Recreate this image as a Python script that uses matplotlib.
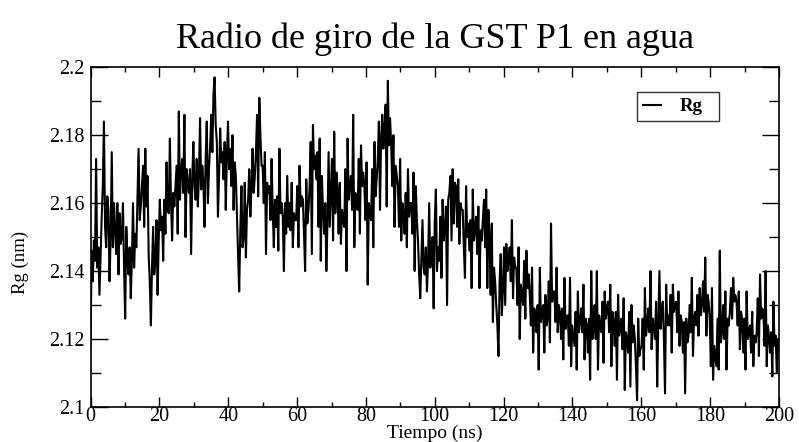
import numpy as np
import matplotlib
matplotlib.use("Agg")
import matplotlib.pyplot as plt
from matplotlib.ticker import MultipleLocator, FuncFormatter

# Radius of gyration (nm) of GST P1 in water, 200 ns trajectory
rg_0_50 = [
    2.118, 2.146, 2.137, 2.149,
    2.143, 2.173, 2.141, 2.147, 2.133, 2.145,
    2.156, 2.165, 2.184, 2.153, 2.147, 2.162,
    2.158, 2.137, 2.150, 2.175, 2.147, 2.160,
    2.152, 2.145, 2.160, 2.139, 2.157, 2.148,
    2.150, 2.160, 2.141, 2.126, 2.153, 2.144,
    2.139, 2.147, 2.132, 2.143, 2.160, 2.141,
    2.151, 2.147, 2.161, 2.176, 2.155, 2.159,
    2.165, 2.171, 2.153, 2.176, 2.159, 2.168,
    2.145, 2.137, 2.124, 2.141, 2.153, 2.139,
    2.143, 2.155, 2.133, 2.149, 2.161, 2.152,
    2.156, 2.143, 2.161, 2.151, 2.172, 2.158,
    2.157, 2.179, 2.160, 2.149, 2.163, 2.159,
    2.165, 2.171, 2.151, 2.187, 2.161, 2.169,
    2.173, 2.163, 2.186, 2.150, 2.170, 2.166,
    2.163, 2.170, 2.145, 2.167, 2.178, 2.165,
    2.161, 2.173, 2.159, 2.168, 2.185, 2.164, 2.171,
    2.166, 2.153, 2.173, 2.184, 2.160, 2.170,
    2.177, 2.186, 2.175, 2.192, 2.197, 2.183,
    2.178, 2.156, 2.168, 2.182, 2.172, 2.175,
    2.167, 2.178, 2.158, 2.174, 2.184, 2.170,
    2.176, 2.165, 2.180, 2.158, 2.172, 2.168,
    2.156, 2.145, 2.134, 2.152, 2.165, 2.147,
    2.150, 2.166, 2.144, 2.158,
    2.161, 2.170, 2.156, 2.165, 2.176, 2.163, 2.168,
    2.175, 2.186, 2.162, 2.191, 2.180, 2.171,
]

rg_50_100 = [
    2.171, 2.160, 2.175, 2.145, 2.166, 2.163,
    2.165, 2.155, 2.173, 2.158, 2.147, 2.161,
    2.153, 2.162, 2.146, 2.176, 2.157, 2.160,
    2.156, 2.140, 2.160, 2.151, 2.168, 2.153,
    2.160, 2.152, 2.166, 2.147, 2.157, 2.155,
    2.155, 2.165, 2.147, 2.171, 2.159, 2.162,
    2.161, 2.151, 2.140, 2.167, 2.154, 2.158,
    2.165, 2.178, 2.145, 2.183, 2.170, 2.174, 2.167,
    2.175, 2.153, 2.179, 2.143, 2.168, 2.158,
    2.151, 2.160, 2.140, 2.155, 2.175, 2.153,
    2.163, 2.173, 2.149, 2.181, 2.157, 2.169,
    2.163, 2.151, 2.166, 2.148, 2.158, 2.155,
    2.153, 2.170, 2.140, 2.179, 2.161, 2.166,
    2.168, 2.158, 2.186, 2.147, 2.163, 2.161,
    2.158, 2.173, 2.151, 2.177, 2.165, 2.169,
    2.165, 2.155, 2.172, 2.136, 2.160, 2.158,
    2.155, 2.170, 2.147, 2.178, 2.162, 2.167,
    2.173, 2.184, 2.158, 2.179, 2.186, 2.176,
    2.182, 2.189, 2.159, 2.196, 2.177, 2.185,
    2.177, 2.165, 2.180, 2.153, 2.171, 2.168,
    2.165, 2.153, 2.173, 2.149, 2.160, 2.157,
    2.151, 2.163, 2.147, 2.170, 2.156, 2.160,
    2.160, 2.151, 2.169, 2.140, 2.165, 2.155,
    2.149, 2.139, 2.132, 2.144, 2.155, 2.141,
    2.139, 2.147, 2.134, 2.143, 2.160, 2.141, 2.145,
]

rg_100_150 = [
    2.150, 2.129, 2.155, 2.164, 2.140, 2.147,
    2.143, 2.156, 2.138, 2.161, 2.149, 2.152,
    2.159, 2.130, 2.161,
    2.163, 2.168, 2.149, 2.170, 2.154, 2.166,
    2.165, 2.153, 2.167, 2.148, 2.160, 2.158,
    2.158, 2.147, 2.138, 2.165, 2.150, 2.154,
    2.146, 2.155, 2.135, 2.164, 2.149, 2.152,
    2.156, 2.145, 2.159, 2.135, 2.152, 2.149,
    2.155, 2.161, 2.147, 2.164, 2.135, 2.158,
    2.149, 2.133, 2.154, 2.125, 2.141, 2.137,
    2.130, 2.124, 2.115, 2.137, 2.145, 2.127,
    2.135, 2.147, 2.130, 2.148, 2.140, 2.143,
    2.147, 2.137, 2.155, 2.132, 2.144, 2.141,
    2.141, 2.130, 2.147, 2.120, 2.136, 2.133,
    2.130, 2.143, 2.126, 2.146, 2.135, 2.139,
    2.133, 2.124, 2.141, 2.116, 2.129, 2.127,
    2.122, 2.130, 2.111, 2.141, 2.125, 2.128,
    2.130, 2.116, 2.133, 2.124,
    2.126, 2.137, 2.119, 2.154, 2.131, 2.134,
    2.134, 2.125, 2.141, 2.122, 2.130, 2.128,
    2.120, 2.129, 2.114, 2.138, 2.123, 2.126,
    2.127, 2.118, 2.138, 2.112, 2.124, 2.121,
    2.118, 2.128, 2.111, 2.134, 2.122, 2.125,
    2.129, 2.122, 2.136, 2.114, 2.126, 2.124,
    2.116, 2.126, 2.108, 2.140, 2.120, 2.123,
    2.130, 2.120, 2.140, 2.111, 2.127, 2.124,
    2.122, 2.131, 2.113, 2.134, 2.126, 2.129,
]

rg_150_200 = [
    2.131, 2.122, 2.136, 2.112, 2.128, 2.125,
    2.118, 2.128, 2.108, 2.133, 2.121, 2.124,
    2.126, 2.117, 2.132, 2.105, 2.122, 2.120,
    2.116, 2.128, 2.106, 2.130, 2.119, 2.124,
    2.120, 2.112, 2.102, 2.126, 2.115, 2.117,
    2.118, 2.126, 2.111, 2.135, 2.121, 2.124,
    2.129, 2.122, 2.140, 2.117, 2.126, 2.124,
    2.120, 2.131, 2.106, 2.125, 2.140, 2.123, 2.128,
    2.131, 2.120, 2.104, 2.136, 2.124, 2.127,
    2.124, 2.133, 2.116, 2.136, 2.128, 2.130,
    2.131, 2.122, 2.134, 2.118, 2.127, 2.125,
    2.116, 2.125, 2.104, 2.126, 2.119, 2.121,
    2.130, 2.122, 2.138, 2.115, 2.126, 2.128,
    2.124, 2.133, 2.121, 2.135, 2.127, 2.130,
    2.137, 2.128, 2.144, 2.121, 2.133, 2.131,
    2.126, 2.112, 2.135, 2.108, 2.118, 2.115,
    2.112, 2.126, 2.111, 2.146, 2.119, 2.122,
    2.130, 2.120, 2.134, 2.111, 2.126, 2.124,
    2.128, 2.135, 2.126, 2.138, 2.131, 2.133,
    2.131, 2.124, 2.134, 2.117, 2.128, 2.126,
    2.116, 2.126, 2.111, 2.134, 2.120, 2.122,
    2.124, 2.116, 2.128, 2.112, 2.121, 2.119,
    2.122, 2.132, 2.115, 2.139, 2.126, 2.129,
    2.128, 2.118, 2.140, 2.112, 2.124, 2.121,
    2.116, 2.122, 2.109, 2.131, 2.118, 2.121, 2.110, 2.120, 2.117,
]

rg = np.array(rg_0_50 + rg_50_100 + rg_100_150 + rg_150_200)
t_start, t_end = 0.0, 200.0
time_ns = np.linspace(t_start, t_end, len(rg))

title = "Radio de giro de la GST P1 en agua"
xlabel = "Tiempo (ns)"
ylabel = "Rg (nm)"
series_label = "Rg"

plt.rcParams["font.family"] = ["Liberation Serif", "DejaVu Serif"]

fig = plt.figure(figsize=(7.99, 4.42), dpi=100)
ax = fig.add_axes([0.1133, 0.0792, 0.8617, 0.7688])

ax.plot(time_ns, rg, color="black", lw=1.5, label=series_label)

ax.set_xlim(0, 200)
ax.set_ylim(2.1, 2.2)
ax.xaxis.set_major_locator(MultipleLocator(20))
ax.xaxis.set_minor_locator(MultipleLocator(10))
ax.yaxis.set_major_locator(MultipleLocator(0.02))
ax.yaxis.set_minor_locator(MultipleLocator(0.01))
ax.yaxis.set_major_formatter(FuncFormatter(lambda v, p: f"{v:g}"))

ax.tick_params(axis="both", which="both", direction="in",
               top=True, right=True, labelsize=14.5, colors="black")
ax.tick_params(axis="x", which="major", length=7.5, width=1.0, pad=0)
ax.tick_params(axis="x", which="minor", length=3.8, width=1.0)
ax.tick_params(axis="y", which="major", length=12.5, width=1.0, pad=4.5)
ax.tick_params(axis="y", which="minor", length=7, width=1.0)
for sp in ax.spines.values():
    sp.set_linewidth(1.2)

ax.set_xlabel(xlabel, fontsize=14)
ax.xaxis.label.set_va("baseline")
ax.xaxis.set_label_coords(0.5, -0.0906)
ax.set_ylabel(ylabel, fontsize=13.5)
ax.yaxis.set_label_coords(-0.09, 0.424)

fig.text(0.544, 1 - 48 / 442, title, fontsize=26, ha="center", va="baseline")

leg = ax.legend(loc="upper left", bbox_to_anchor=(0.7937, 0.85, 0.119, 0.076),
                mode="expand", frameon=True, fancybox=False,
                prop={"size": 13.5, "weight": "bold"},
                handlelength=1.0, handletextpad=1.0, borderpad=0.3,
                borderaxespad=0.0)
leg.get_frame().set_edgecolor("black")
leg.get_frame().set_linewidth(1.0)

fig.savefig("out.png", dpi=100)
